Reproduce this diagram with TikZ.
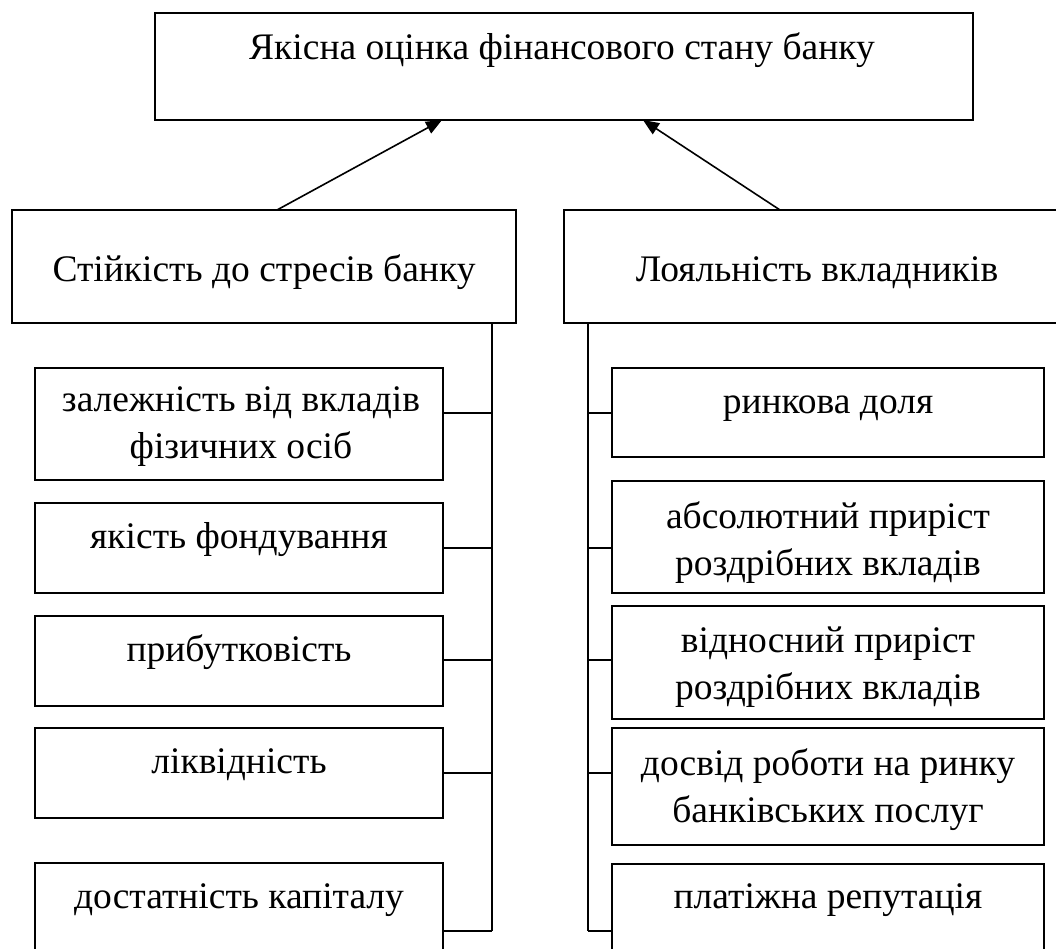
\documentclass[tikz,border=0pt]{standalone}
\usepackage{fontspec}
\setmainfont{Liberation Serif}
\usetikzlibrary{arrows.meta}
\tikzset{
  box/.style={draw, line width=2pt, rectangle, inner sep=0pt, outer sep=0pt},
  txt/.style={font=\fontsize{37.5}{47}\selectfont, anchor=base, align=center, inner sep=0pt},
  conn/.style={line width=2pt},
  arr/.style={line width=1.6pt, -{Triangle[length=16pt,width=13pt]}}
}
\begin{document}
\begin{tikzpicture}[x=1pt,y=-1pt]
\useasboundingbox (0,0) rectangle (1056,949);
\clip (0,0) rectangle (1056,949);
\fill[white] (0,0) rectangle (1056,949);
% main boxes
\node[box, minimum width=818pt, minimum height=107pt] (top) at (564,66.5) {};
\node[box, minimum width=504pt, minimum height=113pt] (lbox) at (264,266.5) {};
\node[box, minimum width=506pt, minimum height=113pt] (rbox) at (817,266.5) {};
% left sub boxes
\node[box, minimum width=408pt, minimum height=112pt] (L1) at (239,424) {};
\node[box, minimum width=408pt, minimum height=90pt] (L2) at (239,548) {};
\node[box, minimum width=408pt, minimum height=90pt] (L3) at (239,661) {};
\node[box, minimum width=408pt, minimum height=90pt] (L4) at (239,773) {};
\node[box, minimum width=408pt, minimum height=136pt] (L5) at (239,931) {};
% right sub boxes
\node[box, minimum width=432pt, minimum height=89pt] (R1) at (828,412.5) {};
\node[box, minimum width=432pt, minimum height=112pt] (R2) at (828,537) {};
\node[box, minimum width=432pt, minimum height=113pt] (R3) at (828,662.5) {};
\node[box, minimum width=432pt, minimum height=117pt] (R4) at (828,786.5) {};
\node[box, minimum width=432pt, minimum height=134pt] (R5) at (828,931) {};
% texts
\node[txt] (ttop) at (562,60) {Якісна оцінка фінансового стану банку};
\node[txt] (tl) at (264,282) {Стійкість до стресів банку};
\node[txt] (tr) at (817,282) {Лояльність вкладників};
\node[txt] (tL1) at (241,458) {залежність від вкладів\\фізичних осіб};
\node[txt] (tL2) at (239,548) {якість фондування};
\node[txt] (tL3) at (239,661) {прибутковість};
\node[txt] (tL4) at (239,773) {ліквідність};
\node[txt] (tL5) at (239,908) {достатність капіталу};
\node[txt] (tR1) at (828,413) {ринкова доля};
\node[txt] (tR2) at (828,575) {абсолютний приріст\\роздрібних вкладів};
\node[txt] (tR3) at (828,699) {відносний приріст\\роздрібних вкладів};
\node[txt] (tR4) at (828,822) {досвід роботи на ринку\\банківських послуг};
\node[txt] (tR5) at (828,908) {платіжна репутація};
% arrows
\coordinate (a1) at (277,210);
\coordinate (t1) at (442,120);
\coordinate (a2) at (780,210);
\coordinate (t2) at (643,120);
\draw[arr] (a1) -- (t1);
\draw[arr] (a2) -- (t2);
% left bus
\coordinate (lb0) at (492,323);
\coordinate (lb1) at (492,413);
\coordinate (lb2) at (492,548);
\coordinate (lb3) at (492,660);
\coordinate (lb4) at (492,773);
\coordinate (lb5) at (492,931);
\draw[conn] (lb0) -- (lb5);
\foreach \i in {1,...,5} {\draw[conn] (lb\i) -- (lb\i -| L\i.east);}
% right bus
\coordinate (rb0) at (588,323);
\coordinate (rb1) at (588,413);
\coordinate (rb2) at (588,548);
\coordinate (rb3) at (588,660);
\coordinate (rb4) at (588,773);
\coordinate (rb5) at (588,931);
\draw[conn] (rb0) -- (rb5);
\foreach \i in {1,...,5} {\draw[conn] (rb\i) -- (rb\i -| R\i.west);}
\end{tikzpicture}
\end{document}
